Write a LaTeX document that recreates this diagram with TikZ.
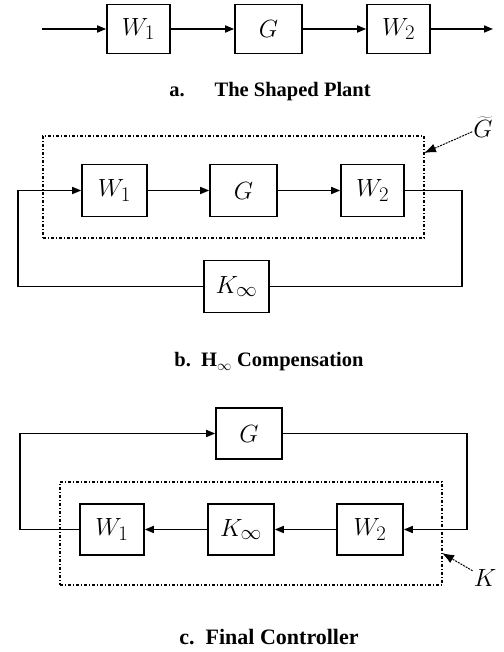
\documentclass[tikz,border=0pt]{standalone}
\usepackage{fontspec}
\setmainfont{Liberation Serif}
\usetikzlibrary{positioning,arrows.meta}

\begin{document}
\begin{tikzpicture}[x=1pt, y=-1pt,
  block/.style={rectangle, draw, line width=1.6pt, minimum width=63pt, minimum height=49pt,
                inner sep=0pt, font=\fontsize{24.88}{28}\selectfont},
  bigblock/.style={block, minimum width=65pt, minimum height=52pt},
  caption/.style={font=\fontsize{20.5}{24}\selectfont\bfseries},
  wire/.style={line width=1.6pt},
  arrow/.style={wire, -{Triangle[length=9pt, width=7pt]}},
  frame/.style={rectangle, line width=1.3pt, dash pattern=on 3pt off 2pt on 1pt off 2pt, draw, inner sep=0pt},
  pointer/.style={line width=1pt, dash pattern=on 2pt off 1pt, -{Latex[length=12pt, width=9pt]}},
]
\useasboundingbox (0,0) rectangle (503,652);

% a. shaped plant
\coordinate (ain) at (42,29);
\coordinate (aout) at (493,29);
\node[block] (aw1) at (138.5,29) {$W_1$};
\node[block, minimum width=67pt] (ag) at (268.5,29) {$G$};
\node[block] (aw2) at (398.5,29) {$W_2$};
\draw[arrow] (ain) -- (aw1);
\draw[arrow] (aw1) -- (ag);
\draw[arrow] (ag) -- (aw2);
\draw[arrow] (aw2) -- (aout);
\node[caption] (capa) at (270,92) {a.\hspace{30pt}The Shaped Plant};

% b. H-infinity loop
\node[frame, minimum width=381pt, minimum height=102pt] (bframe) at (233.5,187) {};
\node[bigblock] (bw1) at (114.5,190.5) {$W_1$};
\node[bigblock, minimum width=67pt] (bg) at (243.5,190.5) {$G$};
\node[bigblock, minimum width=63pt] (bw2) at (372.5,190.5) {$W_2$};
\node[bigblock] (bk) at (236.5,286.5) {$K_\infty$};
\coordinate (bl) at (18,190.5);
\coordinate (br) at (462,190.5);
\draw[arrow] (bl) -- (bw1);
\draw[arrow] (bw1) -- (bg);
\draw[arrow] (bg) -- (bw2);
\draw[wire] (bw2) -- (br) |- (bk);
\draw[wire] (bk) -| (bl);
\node[font=\fontsize{24.88}{28}\selectfont, inner sep=1pt] (gtl) at (483,127) {$\widetilde{G}$};
\coordinate (gtip) at (424,153);
\draw[pointer] (gtl) -- (gtip);
\node[caption] (capb) at (269,362) {b.~~H$_\infty$ Compensation};

% c. final controller
\node[frame, minimum width=382pt, minimum height=103pt] (cframe) at (251,533.5) {};
\node[bigblock, minimum width=66pt, minimum height=51pt] (cg) at (249,433.5) {$G$};
\node[bigblock, minimum width=64pt, minimum height=51pt] (cw1) at (112,529.5) {$W_1$};
\node[bigblock, minimum width=66pt, minimum height=51pt] (ck) at (241,529.5) {$K_\infty$};
\node[bigblock, minimum width=66pt, minimum height=51pt] (cw2) at (370,529.5) {$W_2$};
\coordinate (cl) at (20,529.5);
\coordinate (cr) at (467,529.5);
\draw[arrow] (cw1) -- (cl) |- (cg);
\draw[arrow] (cg) -| (cr) -- (cw2);
\draw[arrow] (cw2) -- (ck);
\draw[arrow] (ck) -- (cw1);
\node[font=\fontsize{24.88}{28}\selectfont, inner sep=1pt] (kl) at (485,578) {$K$};
\coordinate (ktip) at (442,553);
\draw[pointer] (kl) -- (ktip);
\node[caption, font=\fontsize{22}{26}\selectfont\bfseries] (capc) at (269,637) {c.~~Final Controller};

\end{tikzpicture}
\end{document}
